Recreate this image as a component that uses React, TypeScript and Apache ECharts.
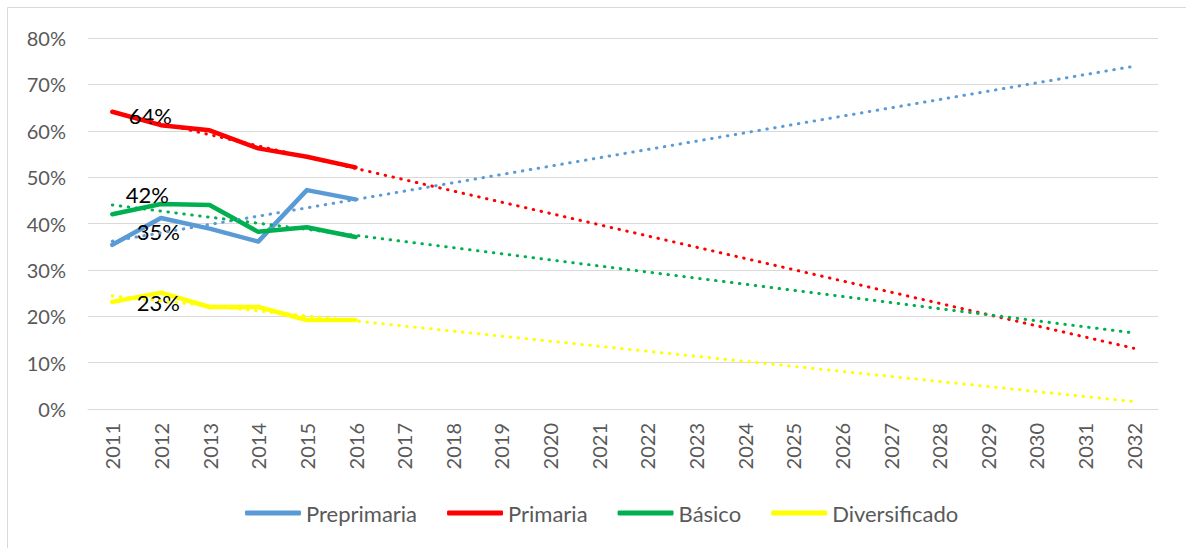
import React, { useEffect, useRef } from "react";
import * as echarts from "echarts";

const years = [
  "2011", "2012", "2013", "2014", "2015", "2016", "2017", "2018", "2019", "2020", "2021",
  "2022", "2023", "2024", "2025", "2026", "2027", "2028", "2029", "2030", "2031", "2032",
];

const seriesNames = ["Preprimaria", "Primaria", "Básico", "Diversificado"];
const seriesColors = ["#5B9BD5", "#FF0000", "#00B050", "#FFFF00"];

// observed values 2011–2016 (%)
const preprimaria = [35.4, 41.2, 38.9, 36.1, 47.2, 45.2];
const primaria = [64.1, 61.2, 60.1, 56.2, 54.4, 52.1];
const basico = [42.0, 44.2, 44.0, 38.2, 39.2, 37.1];
const diversificado = [23.1, 25.1, 22.0, 22.0, 19.2, 19.2];

// linear trend lines at 2011 and 2032 (%)
const trendStart = [36.2, 64.0, 44.0, 24.4];
const trendEnd = [73.9, 13.1, 16.4, 1.6];

// offsets of the first-point data labels
const labelOffsets: [number, number][] = [
  [46, -13],
  [38, 4],
  [35, -20],
  [46, 1],
];

const FONT = "Lato";
const GRAY = "#595959";
const GRID = "#d9d9d9";

export default function App() {
  const ref = useRef<HTMLDivElement>(null);

  useEffect(() => {
    if (!ref.current) return;
    const chart = echarts.init(ref.current, undefined, { renderer: "svg" });
    const values = [preprimaria, primaria, basico, diversificado];

    const mainSeries = values.map((vals, i) => ({
      name: seriesNames[i],
      type: "line",
      data: vals.map((v, j) =>
        j === 0
          ? {
              value: v,
              label: {
                show: true,
                position: "inside",
                offset: labelOffsets[i],
                formatter: (p: any) => Math.round(p.value) + "%",
                color: "#000000",
                fontSize: 22,
                fontFamily: FONT,
              },
            }
          : v
      ),
      symbol: "circle",
      symbolSize: 1,
      showSymbol: true,
      itemStyle: { color: seriesColors[i] },
      lineStyle: { color: seriesColors[i], width: 4.5, cap: "round", join: "round" },
      z: 3,
    }));

    const trendSeries = seriesNames.map((n, i) => {
      const d: (number | null)[] = years.map(() => null);
      d[0] = trendStart[i];
      d[years.length - 1] = trendEnd[i];
      return {
        name: "Tendencia " + n,
        type: "line",
        data: d,
        connectNulls: true,
        showSymbol: false,
        symbol: "none",
        silent: true,
        lineStyle: {
          color: seriesColors[i],
          width: 3,
          type: [0.5, 7.5],
          cap: "round",
        },
        z: 4,
      };
    });

    chart.setOption({
      animation: false,
      backgroundColor: "#ffffff",
      graphic: [
        {
          type: "rect",
          shape: { x: 7.5, y: 7.5, width: 1200, height: 600 },
          style: { fill: "none", stroke: GRID, lineWidth: 1 },
          silent: true,
        },
      ],
      grid: { left: 88, right: 28, top: 38, height: 371 },
      legend: {
        data: seriesNames.map((n) => ({ name: n, icon: "roundRect" })),
        left: 240,
        top: 497,
        itemWidth: 56,
        itemHeight: 5,
        itemGap: 30,
        textStyle: { color: GRAY, fontSize: 22, fontFamily: FONT },
      },
      xAxis: {
        type: "category",
        data: years,
        boundaryGap: true,
        axisLine: { lineStyle: { color: GRID, width: 1 } },
        axisTick: { show: false },
        axisLabel: {
          rotate: 90,
          margin: 14,
          color: GRAY,
          fontSize: 20,
          fontFamily: FONT,
          interval: 0,
        },
      },
      yAxis: {
        type: "value",
        min: 0,
        max: 80,
        interval: 10,
        axisLine: { show: false },
        axisTick: { show: false },
        axisLabel: {
          formatter: "{value}%",
          margin: 22,
          color: GRAY,
          fontSize: 20,
          fontFamily: FONT,
        },
        splitLine: { lineStyle: { color: GRID, width: 1 } },
      },
      series: [...mainSeries, ...trendSeries],
    });

    return () => chart.dispose();
  }, []);

  return (
    <div
      ref={ref}
      style={{ position: "absolute", left: 0, top: 0, width: 1186, height: 548 }}
    />
  );
}
